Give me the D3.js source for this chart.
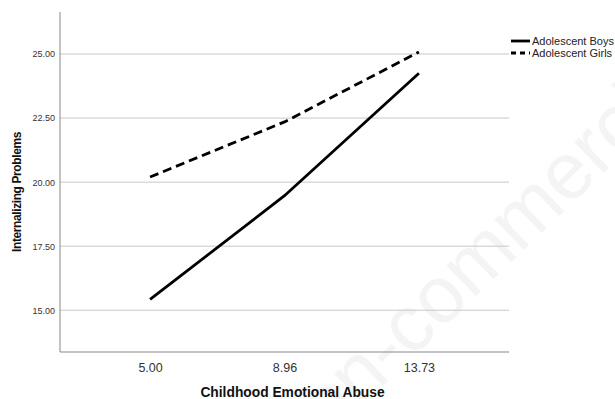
<!DOCTYPE html>
<html>
<head>
<meta charset="utf-8">
<script src="https://cdn.jsdelivr.net/npm/d3@7/dist/d3.min.js"></script>
<style>
  html, body { margin: 0; padding: 0; background: #fff; }
  svg { display: block; font-family: "Liberation Sans", Arial, sans-serif; }
</style>
</head>
<body>
<svg id="chart" width="615" height="399"></svg>
<script>
// Abuse levels (mean - 1 SD, mean, mean + 1 SD)
const abuseLevels = ["5.00", "8.96", "13.73"];
// Estimated marginal means of internalizing problems
const boysValues = [15.42, 19.47, 24.25];
const girlsValues = [20.20, 22.35, 25.08];
const seriesNames = ["Adolescent Boys", "Adolescent Girls"];
const yTicks = [15, 17.5, 20, 22.5, 25];

const svg = d3.select("#chart");
const plotLeft = 60, plotRight = 509, plotTop = 12, plotBottom = 352;

// faint diagonal background mark
svg.append("text")
  .attr("transform", "translate(296,470) rotate(-44)")
  .attr("font-size", 80)
  .attr("fill", "#f4f4f4")
  .text("non-commercial");

const x = d3.scalePoint().domain(abuseLevels).range([plotLeft, plotRight]).padding(0.67);
const y = d3.scaleLinear().domain([13.37, 26.64]).range([plotBottom, plotTop]);

// horizontal grid lines
svg.append("g")
  .selectAll("line")
  .data(yTicks)
  .join("line")
  .attr("x1", plotLeft).attr("x2", plotRight)
  .attr("y1", d => y(d)).attr("y2", d => y(d))
  .attr("stroke", "#c8c8c8").attr("stroke-width", 1);

// y axis
const yAxis = svg.append("g")
  .attr("transform", `translate(${plotLeft},0)`)
  .call(d3.axisLeft(y).tickValues(yTicks).tickFormat(d3.format(".2f")).tickSize(0).tickPadding(5));
yAxis.select(".domain").attr("stroke", "#888").attr("d", `M0,${plotTop}V${plotBottom}`);
yAxis.selectAll("text").attr("font-size", 9).attr("fill", "#333")
  .attr("font-family", "Liberation Sans, Arial, sans-serif");

// x axis
const xAxis = svg.append("g")
  .attr("transform", `translate(0,${plotBottom})`)
  .call(d3.axisBottom(x).tickSize(0).tickPadding(11));
xAxis.select(".domain").attr("stroke", "#888").attr("d", `M${plotLeft},0H${plotRight}`);
xAxis.selectAll("text").attr("font-size", 12.5).attr("fill", "#333")
  .attr("font-family", "Liberation Sans, Arial, sans-serif");

// axis titles
svg.append("text")
  .attr("x", 292.5).attr("y", 396.5)
  .attr("text-anchor", "middle")
  .attr("font-size", 13.8).attr("font-weight", "bold").attr("fill", "#111")
  .text("Childhood Emotional Abuse");

svg.append("text")
  .attr("transform", "translate(21,192) rotate(-90)")
  .attr("text-anchor", "middle")
  .attr("font-size", 12).attr("font-weight", "bold").attr("fill", "#111")
  .attr("letter-spacing", -0.4)
  .text("Internalizing Problems");

// lines
const line = d3.line().x((d, i) => x(abuseLevels[i])).y(d => y(d));
const dashes = ["none", "9,5"];
[boysValues, girlsValues].forEach((vals, k) => {
  svg.append("path")
    .datum(vals)
    .attr("d", line)
    .attr("fill", "none")
    .attr("stroke", "#000")
    .attr("stroke-width", 2.8)
    .attr("stroke-dasharray", dashes[k]);
});

// legend
const legend = svg.append("g");
const legendDash = ["none", "5,4"];
seriesNames.forEach((name, k) => {
  const ly = 41 + k * 12;
  legend.append("line")
    .attr("x1", 511).attr("x2", 530).attr("y1", ly).attr("y2", ly)
    .attr("stroke", "#000").attr("stroke-width", 2.8)
    .attr("stroke-dasharray", legendDash[k]);
  legend.append("text")
    .attr("x", 532).attr("y", ly + 4)
    .attr("font-size", 11).attr("fill", "#222")
    .text(name);
});
</script>
</body>
</html>
